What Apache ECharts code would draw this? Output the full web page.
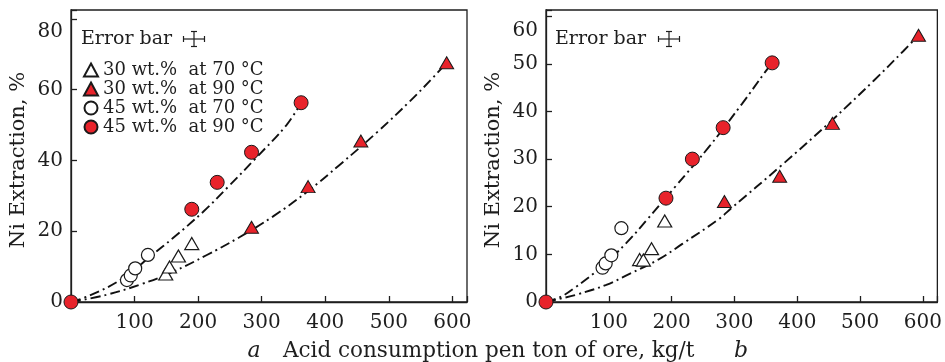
<!DOCTYPE html>
<html><head><meta charset="utf-8">
<script src="https://cdn.jsdelivr.net/npm/echarts@6/dist/echarts.min.js"></script>
<style>html,body{margin:0;padding:0;background:#fff}#c{width:945px;height:362px}</style>
</head><body><div id="c"></div>
<script>
// ---- tick labels ----
const xTicks = [100, 200, 300, 400, 500, 600];
const yTicksA = [0, 20, 40, 60, 80];
const yTicksB = [0, 10, 20, 30, 40, 50, 60];
const seriesNames = ['30 wt.%  at 70 °C', '30 wt.%  at 90 °C', '45 wt.%  at 70 °C', '45 wt.%  at 90 °C'];

// ---- panel a ----
const a30at70 = [[149, 7.9], [155, 9.9], [169, 13.0], [190, 16.5]];
const a30at90 = [[284, 21.1], [373, 32.6], [456, 45.5], [591, 67.6]];
const a45at70 = [[88, 6.2], [94, 7.5], [101, 9.5], [121, 13.3]];
const a45at90 = [[0, 0], [190, 26.2], [230, 33.8], [284, 42.3], [362, 56.3]];
const aFit45 = [[0, 0], [29, 1.8], [80, 6.5], [129, 13.5], [160, 18.0], [208, 25.5], [247, 32.5], [290, 40.5], [339, 50.0], [362, 56.3]];
const aFit30 = [[0, 0], [55, 2.0], [110, 5.0], [160, 8.5], [213, 13.2], [265, 18.3], [318, 24.2], [372, 31.2], [423, 38.8], [483, 48.2], [533, 56.7], [570, 63.5], [591, 67.6]];

// ---- panel b ----
const b30at70 = [[149, 8.9], [155, 8.8], [168, 11.2], [189, 17.0]];
const b30at90 = [[284, 21.1], [372, 26.4], [456, 37.5], [593, 56.0]];
const b45at70 = [[90, 7.2], [95, 8.1], [104, 9.8], [120, 15.5]];
const b45at90 = [[0, 0], [191, 21.8], [233, 30.0], [282, 36.6], [360, 50.2]];
const bFit45 = [[0, 0], [25, 1.2], [46, 3.0], [86, 7.1], [128, 12.4], [159, 17.0], [207, 24.4], [259, 32.5], [312, 41.6], [349, 48.3], [360, 50.2]];
const bFit30 = [[0, 0], [23, 0.7], [50, 1.6], [96, 3.6], [133, 5.9], [180, 9.0], [217, 12.2], [275, 17.4], [296, 19.8], [375, 28.7], [454, 38.0], [522, 46.5], [569, 52.7], [593, 56.0]];

const FONT = 'DejaVu Serif';
const RED = '#e8232b';
const INK = '#1e1e1e';

function xAxisCfg(gi) {
  return {
    gridIndex: gi, type: 'value', min: 0, max: 623, interval: 100,
    axisLine: { show: true, lineStyle: { color: INK, width: 1.3 } },
    axisTick: { show: true, inside: true, length: 6, lineStyle: { color: INK, width: 1.3 } },
    axisLabel: { margin: 11, fontFamily: FONT, fontSize: 20, color: INK,
      formatter: v => xTicks.indexOf(v) >= 0 ? String(v) : '' },
    splitLine: { show: false }
  };
}
function yAxisCfg(gi, max, interval, ticks, topPad, gap) {
  const top = ticks[ticks.length - 1];
  return {
    gridIndex: gi, type: 'value', min: 0, max: max, interval: interval,
    name: 'Ni Extraction, %', nameLocation: 'middle', nameGap: gap, nameRotate: 90,
    nameTextStyle: { fontFamily: FONT, fontSize: 21, color: INK, padding: [0, 8, 0, 0] },
    axisLine: { show: true, lineStyle: { color: INK, width: 1.3 } },
    axisTick: { show: true, inside: true, length: 6, lineStyle: { color: INK, width: 1.3 } },
    axisLabel: { margin: 8, fontFamily: FONT, fontSize: 20, color: INK,
      formatter: v => v === top ? '{t|' + v + '}' : (ticks.indexOf(v) >= 0 ? String(v) : ''),
      rich: { t: { fontFamily: FONT, fontSize: 20, color: INK, padding: [topPad, 0, 0, 0] } } },
    splitLine: { show: false }
  };
}
function fitLine(data, gi) {
  return { type: 'line', xAxisIndex: gi, yAxisIndex: gi, data: data, smooth: 0.4,
    symbol: 'none', z: 1, silent: true,
    lineStyle: { color: '#111', width: 1.9, type: [10, 4, 2, 4] } };
}
function pts(name, data, gi, kind) {
  const filled = kind.filled;
  return { type: 'scatter', name: name, xAxisIndex: gi, yAxisIndex: gi, data: data,
    symbol: kind.symbol, symbolSize: kind.symbol === 'triangle' ? [14, 12] : (filled ? 14 : 13),
    clip: false, z: 3,
    itemStyle: { color: filled ? RED : '#fff', borderColor: '#1a1a1a', borderWidth: filled ? 1 : 1.2, opacity: 1 } };
}
const T_OPEN = { symbol: 'triangle', filled: false };
const T_RED = { symbol: 'triangle', filled: true };
const C_OPEN = { symbol: 'circle', filled: false };
const C_RED = { symbol: 'circle', filled: true };

function errorBar(cx, cy, hw, hh, cap) {
  const ls = { stroke: INK, lineWidth: 1.2 };
  return { type: 'group', children: [
    { type: 'line', shape: { x1: cx - hw, y1: cy, x2: cx + hw, y2: cy }, style: ls },
    { type: 'line', shape: { x1: cx - hw, y1: cy - cap, x2: cx - hw, y2: cy + cap }, style: ls },
    { type: 'line', shape: { x1: cx + hw, y1: cy - cap, x2: cx + hw, y2: cy + cap }, style: ls },
    { type: 'line', shape: { x1: cx, y1: cy - hh, x2: cx, y2: cy + hh }, style: ls },
    { type: 'line', shape: { x1: cx - cap, y1: cy - hh, x2: cx + cap, y2: cy - hh }, style: ls },
    { type: 'line', shape: { x1: cx - cap, y1: cy + hh, x2: cx + cap, y2: cy + hh }, style: ls }
  ] };
}

const chart = echarts.init(document.getElementById('c'), null, { renderer: 'canvas' });
chart.setOption({
  animation: false,
  backgroundColor: '#fff',
  grid: [
    { left: 71, top: 10, width: 396, height: 292, show: true, borderColor: INK, borderWidth: 1.3, backgroundColor: 'transparent' },
    { left: 546, top: 10, width: 395, height: 292, show: true, borderColor: INK, borderWidth: 1.3, backgroundColor: 'transparent' }
  ],
  xAxis: [xAxisCfg(0), xAxisCfg(1)],
  yAxis: [yAxisCfg(0, 82.5, 20, yTicksA, 25, 42), yAxisCfg(1, 61.3, 10, yTicksB, 29, 42)],
  legend: {
    data: seriesNames, orient: 'vertical', left: 83, top: 61, padding: 0, itemWidth: 14, itemHeight: 13, itemGap: 1,
    textStyle: { fontFamily: FONT, fontSize: 18, color: INK },
    selectedMode: false
  },
  graphic: [
    { type: 'text', left: 81, top: 30, style: { text: 'Error bar', font: '19px "DejaVu Serif"', fill: INK } },
    errorBar(194, 39, 10.5, 7.5, 3),
    { type: 'text', left: 555, top: 30, style: { text: 'Error bar', font: '19px "DejaVu Serif"', fill: INK } },
    errorBar(669, 39, 10.5, 7.5, 3),
    { type: 'text', x: 254, y: 351, style: { text: 'a', font: 'italic 22px "DejaVu Serif"', fill: INK, align: 'center', verticalAlign: 'middle' } },
    { type: 'text', x: 283, y: 351, style: { text: 'Acid consumption pen ton of ore, kg/t', font: '21.5px "DejaVu Serif"', fill: INK, align: 'left', verticalAlign: 'middle' } },
    { type: 'text', x: 741, y: 351, style: { text: 'b', font: 'italic 22px "DejaVu Serif"', fill: INK, align: 'center', verticalAlign: 'middle' } }
  ],
  series: [
    fitLine(aFit45, 0), fitLine(aFit30, 0),
    pts(seriesNames[0], a30at70, 0, T_OPEN),
    pts(seriesNames[1], a30at90, 0, T_RED),
    pts(seriesNames[2], a45at70, 0, C_OPEN),
    pts(seriesNames[3], a45at90, 0, C_RED),
    fitLine(bFit45, 1), fitLine(bFit30, 1),
    pts(seriesNames[0], b30at70, 1, T_OPEN),
    pts(seriesNames[1], b30at90, 1, T_RED),
    pts(seriesNames[2], b45at70, 1, C_OPEN),
    pts(seriesNames[3], b45at90, 1, C_RED)
  ]
});
</script></body></html>
